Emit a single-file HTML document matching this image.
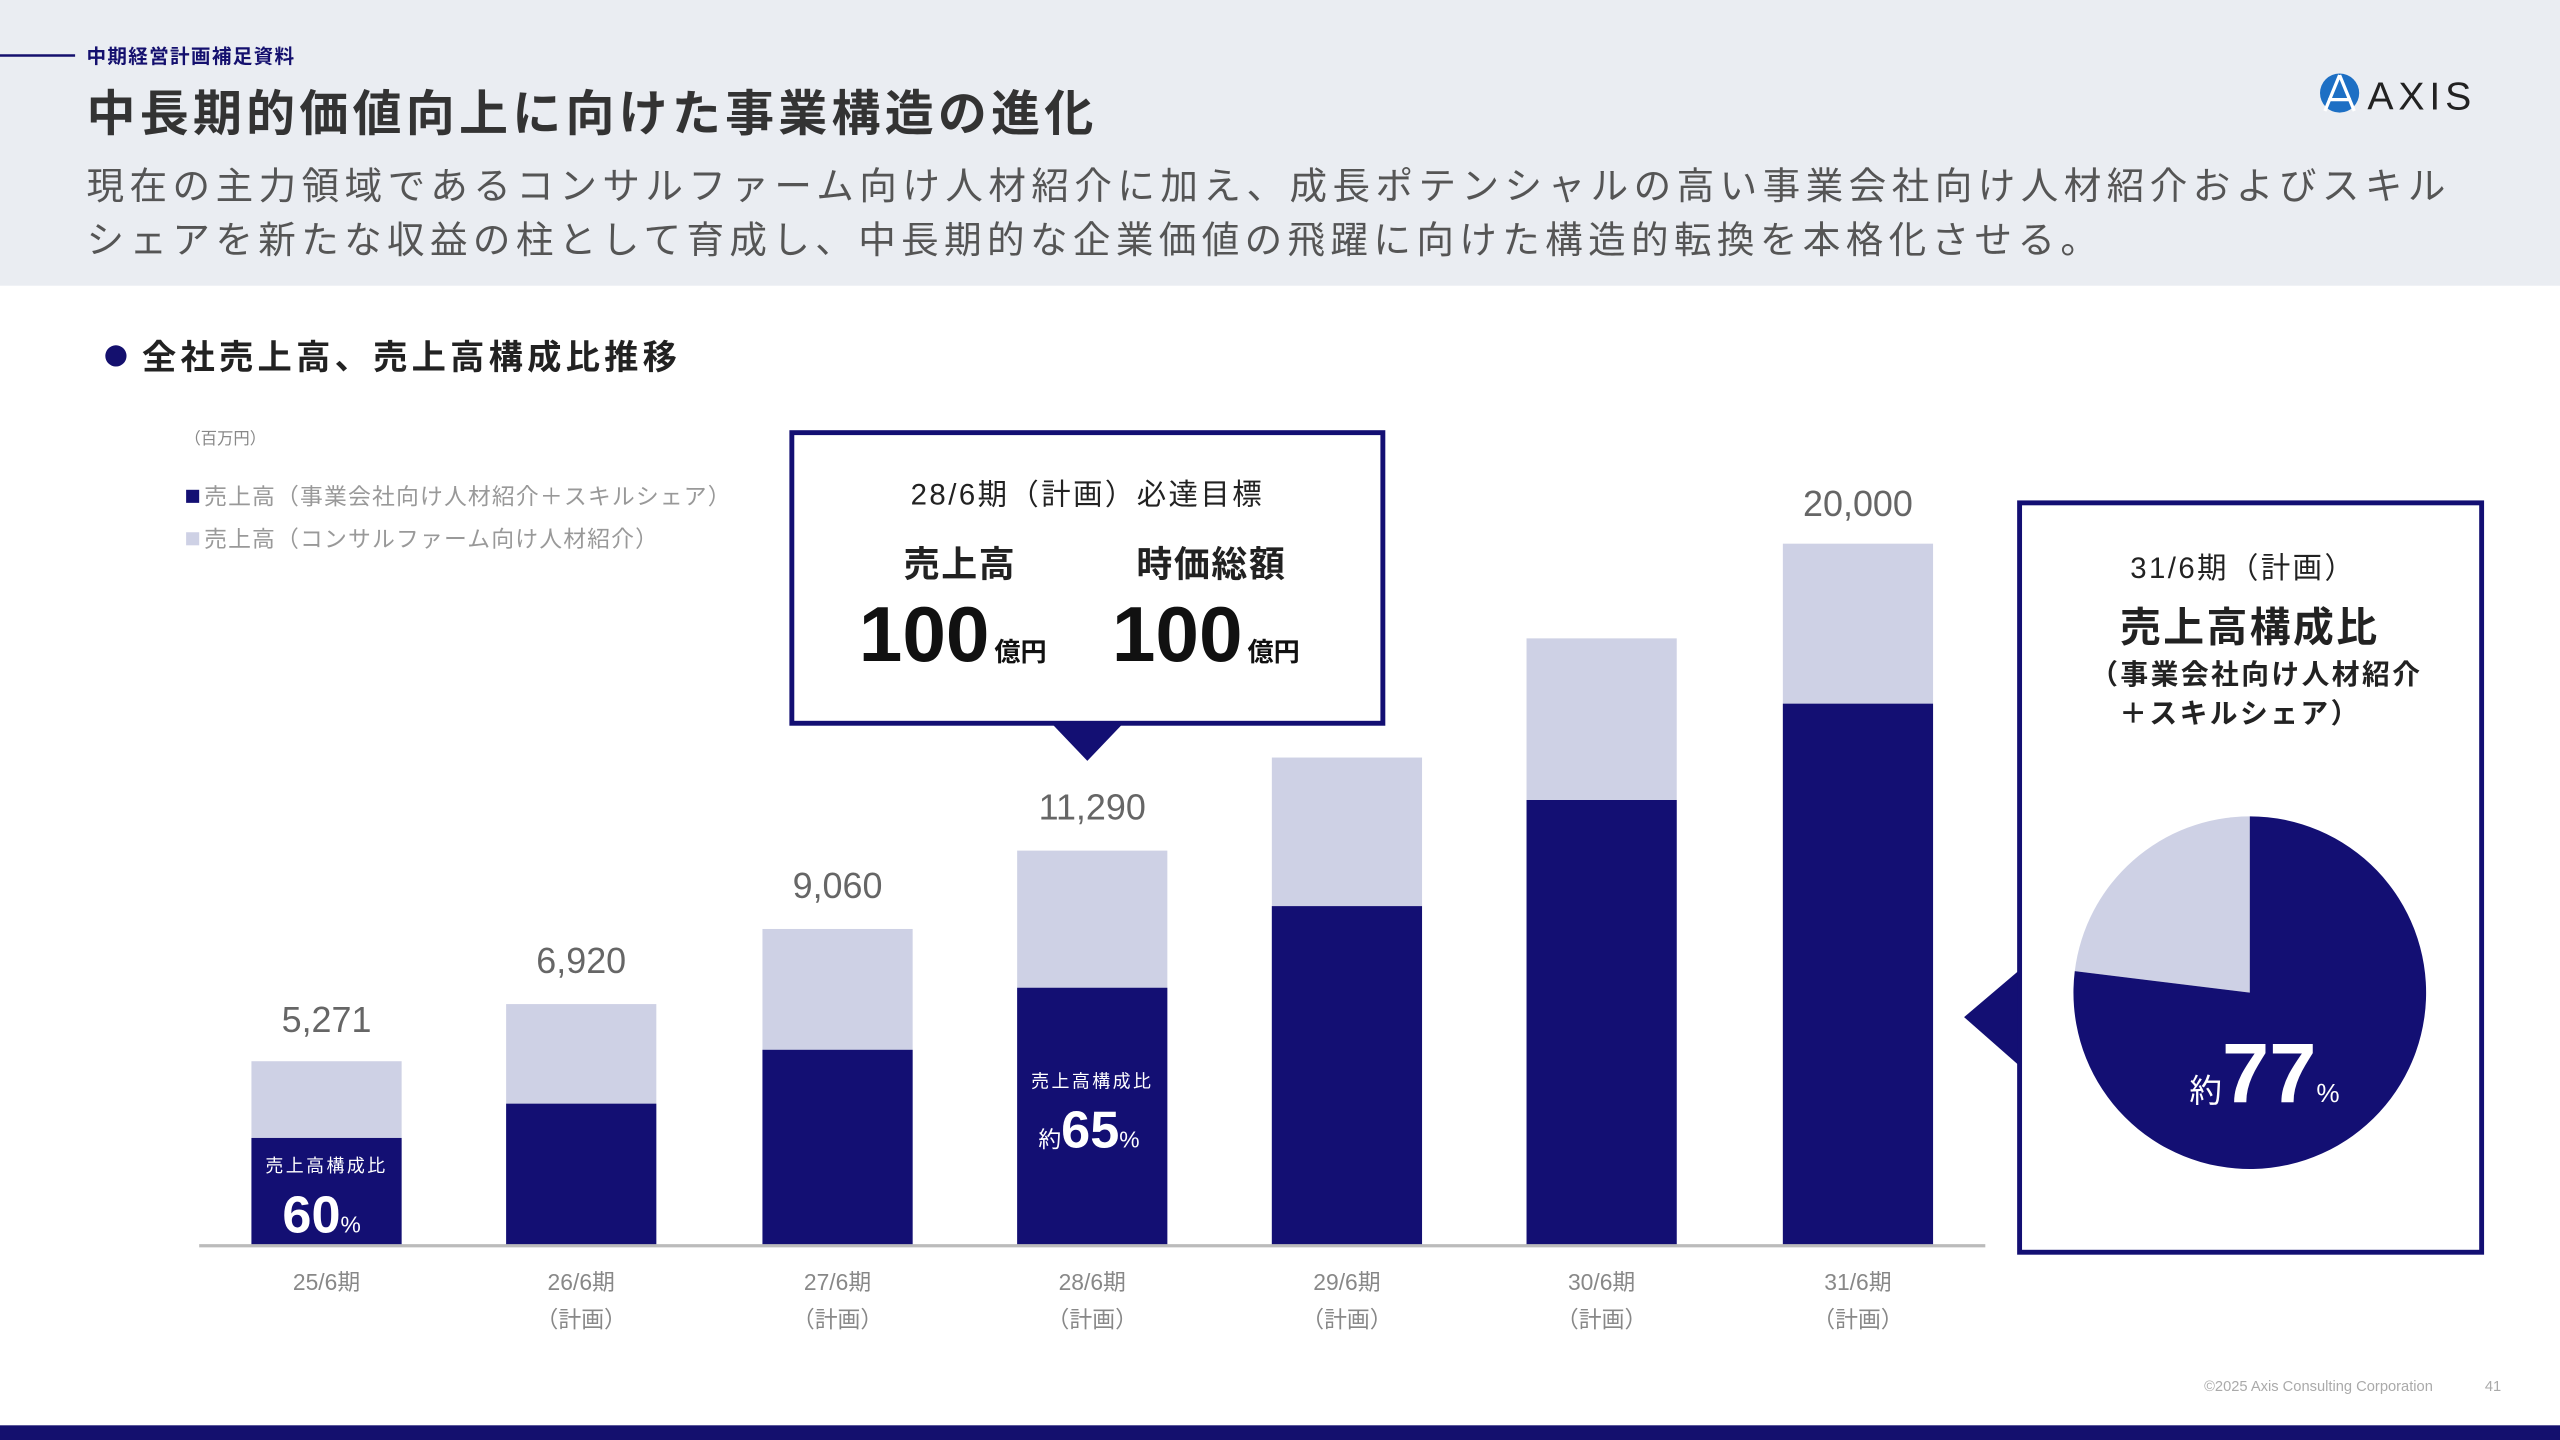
<!DOCTYPE html>
<html><head><meta charset="utf-8"><style>
html,body{margin:0;padding:0;background:#fff;width:2560px;height:1440px;overflow:hidden}
svg{display:block}
text{font-family:"Liberation Sans","Noto Sans CJK JP",sans-serif}
</style></head><body>
<svg width="2560" height="1440" viewBox="0 0 1568 882" preserveAspectRatio="none">
<rect x="0" y="0" width="1568" height="175" fill="#eaedf2"/>
<line x1="0" y1="34" x2="46" y2="34" stroke="#14106e" stroke-width="1.5"/>
<text x="53" y="38.5" font-size="12" font-weight="bold" fill="#14106e" letter-spacing="0.8">中期経営計画補足資料</text>
<text x="53" y="80" font-size="30" font-weight="bold" fill="#333" letter-spacing="2.6">中長期的価値向上に向けた事業構造の進化</text>
<text x="53" y="122" font-size="23" fill="#555" letter-spacing="3.35">現在の主力領域であるコンサルファーム向け人材紹介に加え、成長ポテンシャルの高い事業会社向け人材紹介およびスキル</text>
<text x="53" y="155" font-size="23" fill="#555" letter-spacing="3.3">シェアを新たな収益の柱として育成し、中長期的な企業価値の飛躍に向けた構造的転換を本格化させる。</text>
<!-- logo -->
<circle cx="1433" cy="57" r="12" fill="#1d6fc4"/>
<path d="M1433 46 L1424 68 M1433 46 L1442 68 M1426 61 L1440 61" stroke="#fff" stroke-width="2" fill="none"/>
<text x="1450" y="67" font-size="24" fill="#222" letter-spacing="3">AXIS</text>
<!-- section -->
<circle cx="71" cy="218" r="6.5" fill="#14106e"/>
<text x="87" y="226" font-size="21" font-weight="bold" fill="#222" letter-spacing="2.6">全社売上高、売上高構成比推移</text>
<text x="113" y="272" font-size="10" fill="#888">（百万円）</text>
<rect x="114" y="300" width="8" height="8" fill="#130f73"/>
<text x="125" y="309" font-size="14" fill="#999" letter-spacing="0.7">売上高（事業会社向け人材紹介＋スキルシェア）</text>
<rect x="114" y="326" width="8" height="8" fill="#ced1e5"/>
<text x="125" y="335" font-size="14" fill="#999" letter-spacing="0.7">売上高（コンサルファーム向け人材紹介）</text>
<!-- bars -->
<g fill="#ced1e5">
<rect x="154" y="650" width="92" height="113"/>
<rect x="310" y="615" width="92" height="148"/>
<rect x="467" y="569" width="92" height="194"/>
<rect x="623" y="521" width="92" height="242"/>
<rect x="779" y="464" width="92" height="299"/>
<rect x="935" y="391" width="92" height="372"/>
<rect x="1092" y="333" width="92" height="430"/>
</g>
<g fill="#130f73">
<rect x="154" y="697" width="92" height="66"/>
<rect x="310" y="676" width="92" height="87"/>
<rect x="467" y="643" width="92" height="120"/>
<rect x="623" y="605" width="92" height="158"/>
<rect x="779" y="555" width="92" height="208"/>
<rect x="935" y="490" width="92" height="273"/>
<rect x="1092" y="431" width="92" height="332"/>
</g>
<line x1="122" y1="763" x2="1216" y2="763" stroke="#bbb" stroke-width="2"/>
<g font-size="22" fill="#666" text-anchor="middle">
<text x="200" y="632">5,271</text>
<text x="356" y="596">6,920</text>
<text x="513" y="550">9,060</text>
<text x="669" y="502">11,290</text>
<text x="1138" y="316">20,000</text>
</g>
<g font-size="14" fill="#888" text-anchor="middle">
<text x="200" y="790">25/6期</text>
<text x="356" y="790">26/6期</text><text x="356" y="813">（計画）</text>
<text x="513" y="790">27/6期</text><text x="513" y="813">（計画）</text>
<text x="669" y="790">28/6期</text><text x="669" y="813">（計画）</text>
<text x="825" y="790">29/6期</text><text x="825" y="813">（計画）</text>
<text x="981" y="790">30/6期</text><text x="981" y="813">（計画）</text>
<text x="1138" y="790">31/6期</text><text x="1138" y="813">（計画）</text>
</g>
<g fill="#fff" text-anchor="middle">
<text x="200" y="718" font-size="11" letter-spacing="1.5">売上高構成比</text>
<text x="197" y="755" font-size="32" font-weight="bold">60<tspan font-size="14" font-weight="normal">%</tspan></text>
<text x="669" y="666" font-size="11" letter-spacing="1.5">売上高構成比</text>
<text x="667" y="703" font-size="32" font-weight="bold"><tspan font-size="14" font-weight="normal">約</tspan>65<tspan font-size="14" font-weight="normal">%</tspan></text>
</g>
<!-- callout -->
<rect x="485" y="265" width="362" height="178" fill="#fff" stroke="#130f73" stroke-width="3"/>
<polygon points="644,443 688,443 666,466" fill="#130f73"/>
<text x="666" y="309" font-size="18" fill="#222" text-anchor="middle" letter-spacing="1.5">28/6期（計画）必達目標</text>
<text x="588" y="353" font-size="22" font-weight="bold" fill="#222" text-anchor="middle" letter-spacing="1">売上高</text>
<text x="742" y="353" font-size="22" font-weight="bold" fill="#222" text-anchor="middle" letter-spacing="1">時価総額</text>
<text x="526" y="405" font-size="48" font-weight="bold" fill="#111">100<tspan font-size="16" dx="3">億円</tspan></text>
<text x="681" y="405" font-size="48" font-weight="bold" fill="#111">100<tspan font-size="16" dx="3">億円</tspan></text>
<!-- right box -->
<rect x="1237" y="308" width="283" height="459" fill="#fff" stroke="#130f73" stroke-width="3"/>
<polygon points="1236,595 1236,652 1203,623" fill="#130f73"/>
<text x="1374" y="354" font-size="18" fill="#222" text-anchor="middle" letter-spacing="1.5">31/6期（計画）</text>
<text x="1378" y="393" font-size="25" font-weight="bold" fill="#222" text-anchor="middle" letter-spacing="1.5">売上高構成比</text>
<text x="1382" y="419" font-size="17" font-weight="bold" fill="#222" text-anchor="middle" letter-spacing="1.5">（事業会社向け人材紹介</text>
<text x="1372" y="443" font-size="17" font-weight="bold" fill="#222" text-anchor="middle" letter-spacing="1.5">＋スキルシェア）</text>
<path d="M1378 608 L1378 500 A108 108 0 0 0 1270.8 594.8 Z" fill="#ced1e5"/>
<path d="M1378 608 L1270.8 594.8 A108 108 0 1 0 1378 500 Z" fill="#130f73"/>
<text x="1387" y="675" font-size="52" font-weight="bold" fill="#fff" text-anchor="middle"><tspan font-size="20" font-weight="normal">約</tspan>77<tspan font-size="16" font-weight="normal">%</tspan></text>
<text x="1350" y="852" font-size="9" fill="#aaa">©2025 Axis Consulting Corporation</text>
<text x="1522" y="852" font-size="9" fill="#aaa">41</text>
<rect x="0" y="873" width="1568" height="9" fill="#14106e"/>
</svg>
</body></html>
